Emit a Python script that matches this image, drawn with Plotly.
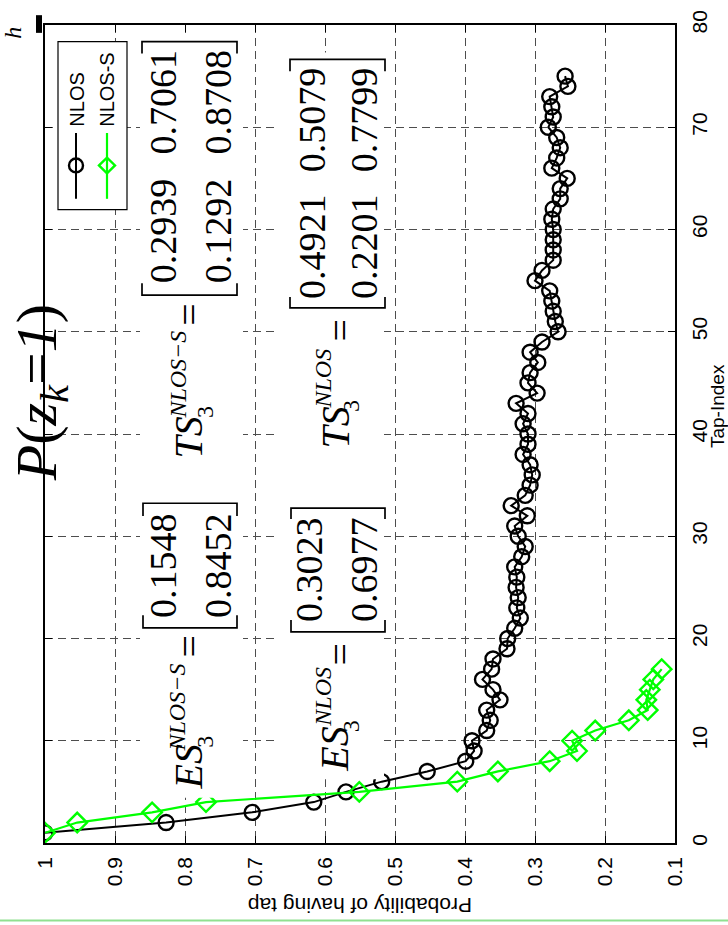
import plotly.graph_objects as go

# ---------------- data ----------------
nlos_tap = list(range(1, 76))
nlos_prob = [1.0, 0.827, 0.704, 0.616, 0.570, 0.519, 0.454, 0.399, 0.387, 0.390,
             0.369, 0.364, 0.369, 0.350, 0.360, 0.375, 0.362, 0.360, 0.340, 0.339,
             0.329, 0.321, 0.326, 0.324, 0.327, 0.326, 0.329, 0.319, 0.314, 0.324,
             0.329, 0.311, 0.334, 0.314, 0.307, 0.304, 0.307, 0.317, 0.310, 0.310,
             0.317, 0.310, 0.327, 0.297, 0.310, 0.307, 0.296, 0.307, 0.290, 0.267,
             0.271, 0.274, 0.276, 0.279, 0.300, 0.290, 0.274, 0.274, 0.274, 0.274,
             0.276, 0.274, 0.264, 0.264, 0.254, 0.276, 0.269, 0.264, 0.269, 0.281,
             0.274, 0.276, 0.279, 0.253, 0.257]
nloss_tap = list(range(1, 18))
nloss_prob = [1.0, 0.954, 0.847, 0.770, 0.551, 0.411, 0.353, 0.279, 0.240, 0.247,
              0.214, 0.166, 0.139, 0.141, 0.136, 0.131, 0.119]

prob_ticks = [0.1, 0.2, 0.3, 0.4, 0.5, 0.6, 0.7, 0.8, 0.9, 1.0]
prob_ticktext = ["0.1", "0.2", "0.3", "0.4", "0.5", "0.6", "0.7", "0.8", "0.9", "1"]
tap_ticks = [0, 10, 20, 30, 40, 50, 60, 70, 80]

es_nloss = ["0.1548", "0.8452"]
ts_nloss = [["0.2939", "0.7061"], ["0.1292", "0.8708"]]
es_nlos = ["0.3023", "0.6977"]
ts_nlos = [["0.4921", "0.5079"], ["0.2201", "0.7799"]]

# ---------------- layout helpers (pixel -> paper) ----------------
W, H = 728, 925
L, R, T, B = 45, 675, 10, 843


def px(x):
    return (x - L) / (R - L)


def py(y):
    return (B - y) / (B - T)


SERIF = "Liberation Serif, Times New Roman, serif"
SANS = "Liberation Sans, Arial, sans-serif"

fig = go.Figure()
fig.add_trace(go.Scatter(x=nlos_prob, y=nlos_tap, mode="lines+markers", name="NLOS",
                         line=dict(color="black", width=2),
                         marker=dict(symbol="circle-open", size=15, color="black",
                                     line=dict(width=2.4, color="black"))))
fig.add_trace(go.Scatter(x=nloss_prob, y=nloss_tap, mode="lines+markers", name="NLOS-S",
                         line=dict(color="#00FF00", width=2.2),
                         marker=dict(symbol="diamond-open", size=15, color="#00FF00",
                                     line=dict(width=2.4, color="#00FF00"))))

axis_common = dict(showline=True, linecolor="black", linewidth=1.5, mirror="ticks",
                   ticks="inside", ticklen=7, tickcolor="black", tickwidth=1,
                   showgrid=True, gridcolor="#4d4d4d", griddash="8px,5px", gridwidth=1,
                   zeroline=False, tickangle=-90, ticklabeloverflow="allow",
                   tickfont=dict(family=SANS, size=21, color="black"))

fig.update_layout(
    width=W, height=H, showlegend=False,
    margin=dict(l=L, r=W - R, t=T, b=H - B),
    paper_bgcolor="white", plot_bgcolor="white",
    xaxis=dict(range=[1, 0.1], tickvals=prob_ticks, ticktext=prob_ticktext,
               ticklabelstandoff=4, **axis_common),
    yaxis=dict(range=[0, 80], tickvals=tap_ticks, side="right",
               ticklabelstandoff=5, **axis_common),
)

shapes = []
annotations = []


def rect(x0, y0, x1, y1, fill="white", lw=0, lc="black"):
    shapes.append(dict(type="rect", xref="paper", yref="paper", layer="above",
                       x0=px(x0), x1=px(x1), y0=py(y1), y1=py(y0),
                       fillcolor=fill, line=dict(width=lw, color=lc)))


def line(x0, y0, x1, y1, color="black", w=1.5):
    shapes.append(dict(type="line", xref="paper", yref="paper", layer="above",
                       x0=px(x0), x1=px(x1), y0=py(y0), y1=py(y1),
                       line=dict(color=color, width=w)))


def bracket(x0, x1, y, tick):
    d = "M {a},{b} L {c},{d} L {e},{f} L {g},{h}".format(
        a=px(x0), b=py(y + tick), c=px(x0), d=py(y), e=px(x1), f=py(y), g=px(x1), h=py(y + tick))
    shapes.append(dict(type="path", xref="paper", yref="paper", layer="above", path=d,
                       line=dict(color="black", width=1.7)))


def text(x, y, s, size, family=SERIF, angle=-90, color="black", pad=1):
    annotations.append(dict(x=px(x), y=py(y), xref="paper", yref="paper", text=s,
                            showarrow=False, textangle=angle, xanchor="center",
                            yanchor="middle", borderpad=pad,
                            font=dict(family=family, size=size, color=color)))


# white boxes behind text blocks
rect(140, 20, 243, 797)
rect(277, 38, 384, 778)

# NLOS-S block
text(188, 766, "<i>ES</i>", 40)
text(177, 705, "<i>NLOS−S</i>", 24)
text(205, 740, "3", 24)
text(190, 643, "=", 40)
text(163, 561, es_nloss[0], 38)
text(218, 561, es_nloss[1], 38)
bracket(143, 237, 497, 13)
bracket(143, 237, 624, -13)

text(188, 430, "<i>TS</i>", 40)
text(178, 366, "<i>NLOS−S</i>", 24)
text(205, 404, "3", 24)
text(190, 305, "=", 40)
text(163, 220, ts_nloss[0][0], 38)
text(163, 89, ts_nloss[0][1], 38)
text(218, 220, ts_nloss[1][0], 38)
text(218, 89, ts_nloss[1][1], 38)
bracket(142, 237, 27, 12)
bracket(142, 237, 285, -12)

# NLOS block
text(335, 748, "<i>ES</i>", 40)
text(323, 694, "<i>NLOS</i>", 24)
text(351, 724, "3", 24)
text(340, 651, "=", 40)
text(309, 565, es_nlos[0], 38)
text(364, 565, es_nlos[1], 38)
bracket(291, 385, 502, 11)
bracket(291, 385, 628, -12)

text(336, 420, "<i>TS</i>", 40)
text(323, 370, "<i>NLOS</i>", 24)
text(351, 398, "3", 24)
text(340, 321, "=", 40)
text(312, 236, ts_nlos[0][0], 38)
text(312, 107, ts_nlos[0][1], 38)
text(364, 236, ts_nlos[1][0], 38)
text(364, 107, ts_nlos[1][1], 38)
bracket(290, 385, 45, 12)
bracket(290, 385, 298, -11)

# title
text(40, 385, "<i>P</i>(<i>z<sub>k</sub></i>=<i>1</i>)", 58)

# legend
rect(58, 27, 127, 198, lw=1.2)
line(76, 120, 76, 187, "black", 2)
shapes.append(dict(type="circle", xref="paper", yref="paper", layer="above",
                   x0=px(69), x1=px(83), y0=py(160), y1=py(146),
                   line=dict(color="black", width=2.4)))
text(77, 86, "NLOS", 20, SANS)
line(107, 120, 107, 187, "#00FF00", 2.2)
dpath = "M {},{} L {},{} L {},{} L {},{} Z".format(
    px(99), py(153), px(107), py(145), px(115), py(153), px(107), py(161))
shapes.append(dict(type="path", xref="paper", yref="paper", layer="above", path=dpath,
                   line=dict(color="#00FF00", width=2.4)))
text(107, 76, "NLOS-S", 20, SANS)

# axis titles
text(360, 906, "Probability of having tap", 21, SANS, angle=180)
text(717, 398, "Tap-Index", 19, SANS, pad=0)

# cut-off fragments at top-left and page border line
rect(36, 0, 42, 18, fill="black")
text(13, 18, "<i>h</i>", 24, pad=0)
line(0, 922, 728, 922, "#90E090", 2)

fig.update_layout(shapes=shapes, annotations=annotations)
fig.write_html("out.html")
